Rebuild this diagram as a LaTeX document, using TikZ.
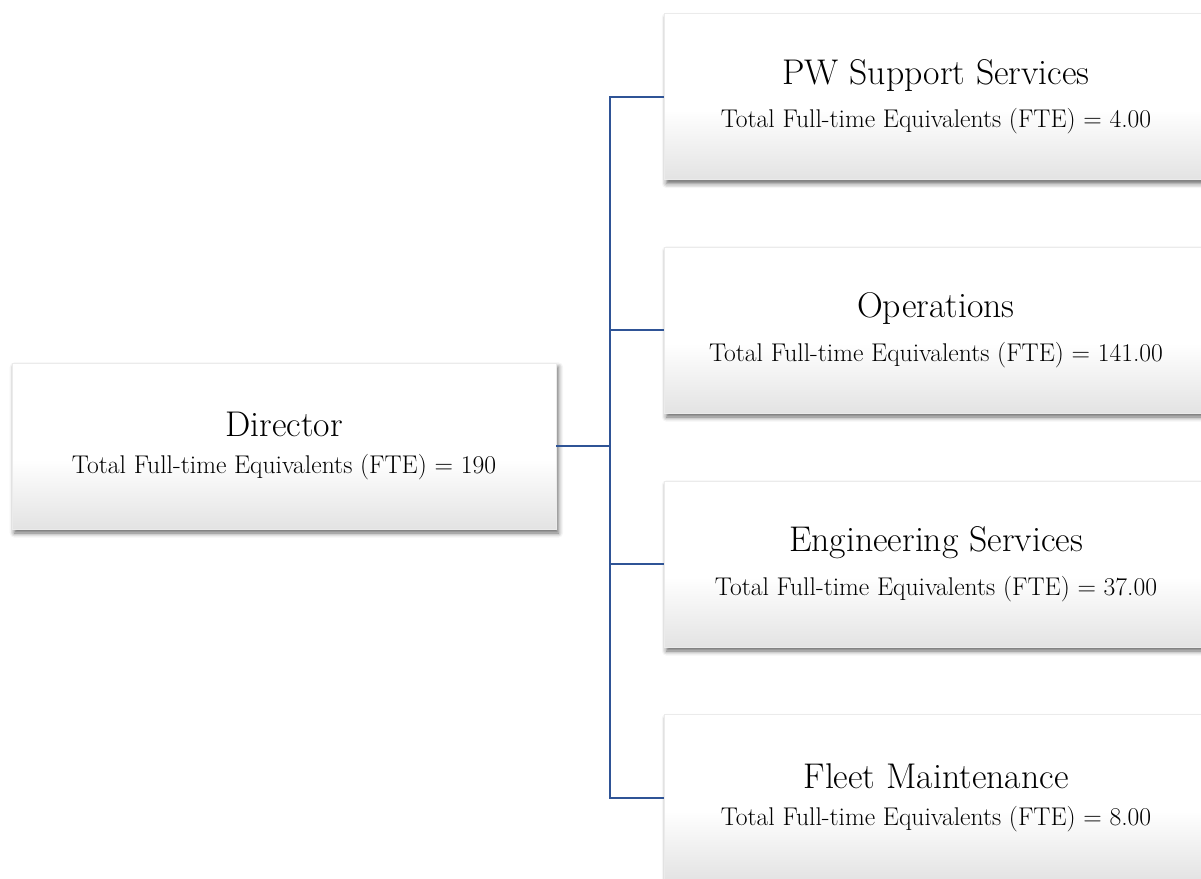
\documentclass[tikz,border=0pt]{standalone}
\usepackage{tikz}
\usetikzlibrary{shadows.blur}

\pgfdeclareverticalshading{boxfade}{100bp}{color(0bp)=(black!11); color(25bp)=(black!11); color(46bp)=(white); color(75bp)=(white); color(100bp)=(white)}
\definecolor{linkblue}{RGB}{47,84,150}

\tikzset{
    unitbox/.style={rectangle, minimum width=408pt, minimum height=124.5pt, inner sep=0pt,
        shading=boxfade, draw=black!8, line width=0.3pt, align=center,
        blur shadow={shadow xshift=1.8pt, shadow yshift=-3pt, shadow blur radius=3.5pt, shadow opacity=60}},
    link/.style={draw=linkblue, line width=1.5pt}
}
\newcommand{\unitname}[1]{{\fontsize{26.8}{30}\selectfont #1}}
\newcommand{\unitfte}[1]{{\fontsize{19.2}{20}\selectfont Total Full-time Equivalents (FTE) = #1}}

\begin{document}
\begin{tikzpicture}[x=0.75pt, y=-0.75pt]
            % Page frame
            \useasboundingbox (0,0) rectangle (1201,878);
            \clip (0,0) rectangle (1201,878);

            % Boxes
            \node[unitbox] (director) at (284,446) {\unitname{Director}\\[12pt]\unitfte{190}};
            \node[unitbox] (support) at (936,96.5) {\unitname{PW Support Services}\\[12pt]\unitfte{4.00}};
            \node[unitbox] (operations) at (936,330) {\unitname{Operations}\\[12pt]\unitfte{141.00}};
            \node[unitbox] (engineering) at (936,564) {\unitname{Engineering Services}\\[12pt]\unitfte{37.00}};
            \node[unitbox] (fleet) at (936,797.5) {\unitname{Fleet Maintenance}\\[12pt]\unitfte{8.00}};

            % Connectors
            \coordinate (trunk) at (610,446);
            \foreach \unit in {support, operations, engineering, fleet}
                \draw[link] (director.east) -- (trunk) |- (\unit.west);

        \end{tikzpicture}
\end{document}
